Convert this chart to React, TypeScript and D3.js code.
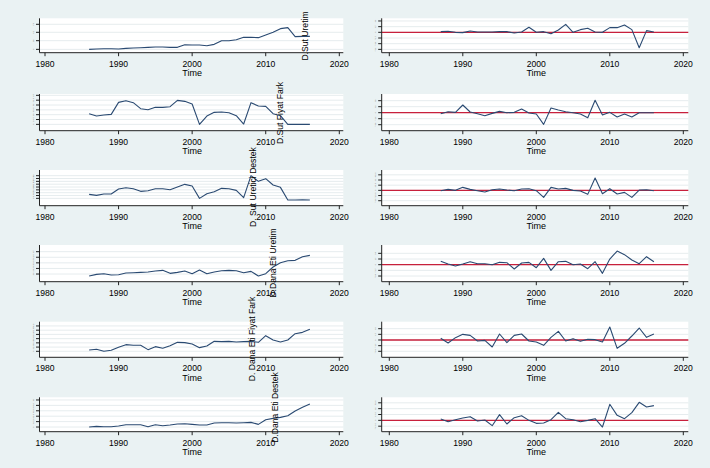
import React from "react";
import * as d3 from "d3";

// ---------- data (arbitrary units) ----------
const yearsLevel = [1986,1987,1988,1989,1990,1991,1992,1993,1994,1995,1996,1997,1998,1999,2000,2001,2002,2003,2004,2005,2006,2007,2008,2009,2010,2011,2012,2013,2014,2015,2016];
const yearsDiff = [1987,1988,1989,1990,1991,1992,1993,1994,1995,1996,1997,1998,1999,2000,2001,2002,2003,2004,2005,2006,2007,2008,2009,2010,2011,2012,2013,2014,2015,2016];

const sutUretim = [0,1,2,2,1,3,4,5,6,7,7,6,6,14,13,13,11,15,26,26,29,36,36,35,43,51,62,65,38,39,39];
const dSutUretim = [2,3,0,-1,4,1,1,1,2,2,-2,1,15,0,2,-4,7,24,0,8,12,1,0,14,14,22,8,-46,5,1];

const sutFiyatFark = [32,25,28,30,66,71,65,47,44,51,51,53,72,69,61,0,25,36,37,35,26,1,65,55,54,32,26,0,0,0,0];
const dSutFiyatFark = [-3,3,1,23,2,-3,-9,-2,4,0,1,11,-1,-4,-35,14,8,3,0,-4,-15,37,-7,1,-13,-4,-13,0,0,0];

const sutUreticiDestek = [12,9,13,13,28,32,29,21,23,29,29,26,34,42,37,0,14,20,30,29,24,2,68,51,59,40,33,-5,-5,-4,-5];
const dSutUreticiDestek = [-1,3,0,9,3,-1,-5,2,4,1,-1,4,5,-1,-21,9,4,6,0,-2,-12,37,-10,5,-11,-6,-21,1,2,-1];

const danaEtiUretim = [14,19,21,17,18,23,24,25,26,29,31,22,25,29,21,32,21,26,30,31,30,24,28,14,21,41,54,60,61,72,76];
const dDanaEtiUretim = [10,2,-4,2,9,3,3,0,7,6,-13,5,7,-9,19,-17,9,10,0,2,-12,9,-26,17,41,30,14,3,24,9];

const danaEtiFiyatFark = [4,6,0,3,12,20,18,18,5,14,9,17,27,26,22,11,16,30,29,30,28,29,30,27,47,34,28,34,53,57,66];
const dDanaEtiFiyatFark = [5,-9,7,17,14,-3,-1,-21,18,-8,14,18,-3,-6,-16,8,26,-3,4,-4,2,1,-6,39,-25,-10,12,36,8,18];

const danaEtiDestek = [0,2,1,1,3,7,7,7,1,7,4,6,9,10,8,6,6,12,13,13,12,13,14,8,22,26,29,34,48,59,69];
const dDanaEtiDestek = [4,-4,2,7,11,-2,1,-16,17,-11,8,14,0,-9,-8,2,24,5,2,-4,0,5,-20,48,15,5,23,54,40,44];

const diffTitles = ["D.Sut Uretim","D.Sut Fiyat Fark","D. Sut Uretici Destek","D.Dana Eti Uretim","D. Dana Eti Fiyat Fark","D.Dana Eti Destek"];
const xTicks = [1980,1990,2000,2010,2020];

const levelSeries = [sutUretim, sutFiyatFark, sutUreticiDestek, danaEtiUretim, danaEtiFiyatFark, danaEtiDestek];
const diffSeries = [dSutUretim, dSutFiyatFark, dSutUreticiDestek, dDanaEtiUretim, dDanaEtiFiyatFark, dDanaEtiDestek];

const levelDomains: [number, number][] = [[-10,93],[-19,91],[-22,85],[-3,107],[-18,89],[-14,89]];
const diffDomains: [number, number][] = [[-61,42],[-54,56],[-46,61],[-51,59],[-52,55],[-34,69]];
const levelTicks = [
  [0,26,51,75],
  [0,14.5,29,43.5,58,72.5,87],
  [0,8.5,17,25.5,34,42.5,51,59.5,68],
  [20,36.75,53.5,70.25,87],
  [0,12.7,25.4,38.1,50.8,63.5,76.2],
  [0,16.2,32.4,48.6,64.8,81],
];
const diffTicks = [
  [-51,-34,-17,0,17,34],
  [-36,-18,0,18,36],
  [-31,-15.5,0,15.5,31,46.5],
  [-34,-17,0,17,34],
  [-34,-17,0,17,34],
  [-17.5,0,17.5,35,52.5],
];

// ---------- layout ----------
const W = 710, H = 468;
const rowAxisY = [52.7,130.7,205.7,281.7,357.3,431.7];
const rowTopY = [18.3,94,170,245,321.7,397.3];
const titlePos = [[305,36],[280,113],[253,187],[273,263],[252,339],[275,407.5]];
const LEFT = { axisX: 39.5, x0: 45, x1: 339.3, right: 343.3 };
const RIGHT = { axisX: 381.7, x0: 389.3, x1: 683.3, right: 688.3 };

const FONT = "Arial, 'Liberation Sans', Helvetica, sans-serif";
const BG = "#eaf2f3";
const LINE = "#2a4a72";
const RED = "#c8203c";
const GRID = "#dfe7ea";
const AXIS = "#222";

type PanelProps = {
  years: number[];
  values: number[];
  domain: [number, number];
  ticks: number[];
  top: number;
  axisY: number;
  geo: typeof LEFT;
  zeroLine: boolean;
};

function Panel({ years, values, domain, ticks, top, axisY, geo, zeroLine }: PanelProps) {
  const x = d3.scaleLinear().domain([1980, 2020]).range([geo.x0, geo.x1]);
  const y = d3.scaleLinear().domain(domain).range([axisY, top]);
  const line = d3.line<number>().x((_, i) => x(years[i])).y((d) => y(d));
  const fmt = d3.format(".3~f");
  return (
    <g>
      <rect x={geo.axisX} y={top} width={geo.right - geo.axisX} height={axisY - top} fill="#ffffff" />
      {ticks.map((t, i) => (
        <line key={"g" + i} x1={geo.axisX} x2={geo.right} y1={y(t)} y2={y(t)} stroke={GRID} strokeWidth={0.8} />
      ))}
      {zeroLine && (
        <line x1={geo.axisX} x2={geo.right} y1={y(0)} y2={y(0)} stroke={RED} strokeWidth={1.3} />
      )}
      <path d={line(values) || ""} fill="none" stroke={LINE} strokeWidth={1.1} strokeLinejoin="round" />
      {/* y axis */}
      <line x1={geo.axisX} x2={geo.axisX} y1={top} y2={axisY} stroke={AXIS} strokeWidth={1} />
      {ticks.map((t, i) => (
        <g key={"t" + i}>
          <line x1={geo.axisX - 3.5} x2={geo.axisX} y1={y(t)} y2={y(t)} stroke={AXIS} strokeWidth={1} />
          <text
            transform={`translate(${geo.axisX - 6},${y(t)}) rotate(-90)`}
            textAnchor="middle"
            fontSize={2.4}
            fill="#777"
            fontFamily={FONT}
          >
            {fmt(t)}
          </text>
        </g>
      ))}
      {/* x axis */}
      <line x1={geo.axisX} x2={geo.right} y1={axisY} y2={axisY} stroke={AXIS} strokeWidth={1} />
      {xTicks.map((t) => (
        <g key={t}>
          <line x1={x(t)} x2={x(t)} y1={axisY} y2={axisY + 3.5} stroke={AXIS} strokeWidth={1} />
          <text x={x(t)} y={axisY + 13.8} textAnchor="middle" fontSize={8.6} fill="#000" fontFamily={FONT}>
            {t}
          </text>
        </g>
      ))}
      <text x={(geo.x0 + geo.x1) / 2} y={axisY + 23.6} textAnchor="middle" fontSize={9} fill="#000" fontFamily={FONT}>
        Time
      </text>
    </g>
  );
}

export default function App() {
  return (
    <svg
      width={W}
      height={H}
      viewBox={`0 0 ${W} ${H}`}
      style={{ position: "absolute", left: 0, top: 0, display: "block" }}
    >
      <rect x={0} y={0} width={W} height={H} fill={BG} />
      {levelSeries.map((vals, r) => (
        <Panel
          key={"L" + r}
          years={yearsLevel}
          values={vals}
          domain={levelDomains[r]}
          ticks={levelTicks[r]}
          top={rowTopY[r]}
          axisY={rowAxisY[r]}
          geo={LEFT}
          zeroLine={false}
        />
      ))}
      {diffSeries.map((vals, r) => (
        <Panel
          key={"R" + r}
          years={yearsDiff}
          values={vals}
          domain={diffDomains[r]}
          ticks={diffTicks[r]}
          top={rowTopY[r]}
          axisY={rowAxisY[r]}
          geo={RIGHT}
          zeroLine={true}
        />
      ))}
      {diffTitles.map((t, r) => (
        <text
          key={"T" + r}
          transform={`translate(${titlePos[r][0] + 3},${titlePos[r][1]}) rotate(-90)`}
          textAnchor="middle"
          fontSize={8.6}
          fill="#000"
          fontFamily={FONT}
        >
          {t}
        </text>
      ))}
    </svg>
  );
}
